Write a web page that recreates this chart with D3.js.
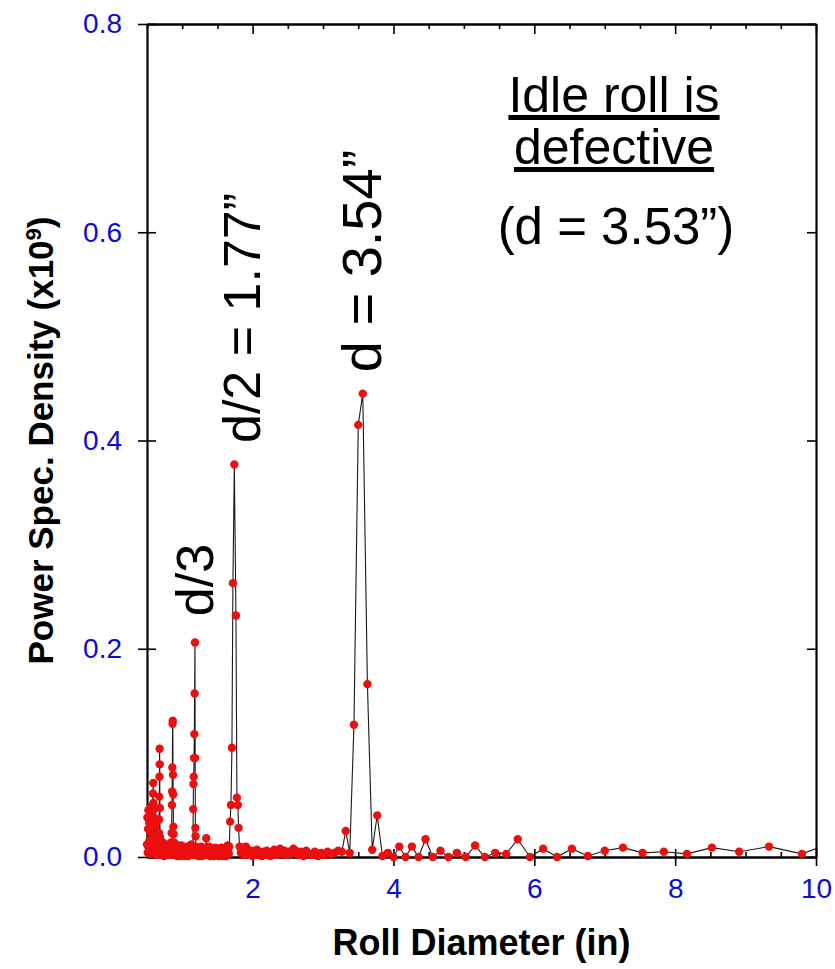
<!DOCTYPE html>
<html>
<head>
<meta charset="utf-8">
<script src="https://cdn.jsdelivr.net/npm/d3@7"></script>
<style>
  body { margin: 0; background: #fff; }
  svg { display: block; font-family: "Liberation Sans", Arial, sans-serif; }
</style>
</head>
<body>
<script>
// Données : diamètre du rouleau (in) et densité spectrale (x10^9)
// partie dense, de 0.5 à 1.85 in
const diameterDense = [
  0.500, 0.505, 0.510, 0.515, 0.520, 0.525, 0.530, 0.535, 0.540, 0.545,
  0.550, 0.555, 0.560, 0.565, 0.570, 0.575, 0.580, 0.585, 0.588, 0.591,
  0.595, 0.600, 0.605, 0.610, 0.615, 0.620, 0.625, 0.630, 0.635, 0.640,
  0.645, 0.650, 0.655, 0.660, 0.665,
  0.668, 0.671, 0.673, 0.675, 0.677, 0.679, 0.681, 0.683, 0.685, 0.688,
  0.692, 0.697, 0.702, 0.707, 0.712, 0.718, 0.724, 0.730, 0.736, 0.742,
  0.748, 0.754, 0.760, 0.766, 0.772, 0.778, 0.784, 0.790, 0.796, 0.802,
  0.808, 0.814, 0.820, 0.826, 0.832, 0.838, 0.844, 0.850, 0.854, 0.857,
  0.860, 0.863, 0.866, 0.869, 0.872, 0.875, 0.878, 0.882, 0.887,
  0.893, 0.899, 0.905, 0.911, 0.917, 0.923, 0.929, 0.935, 0.941, 0.947,
  0.953, 0.959, 0.965, 0.971, 0.977, 0.983, 0.989, 0.995, 1.001, 1.008,
  1.015, 1.022, 1.029, 1.036, 1.043, 1.050, 1.057, 1.064, 1.071, 1.078,
  1.085, 1.092, 1.099, 1.106, 1.113, 1.120, 1.127, 1.134, 1.141, 1.148,
  1.152, 1.156, 1.160, 1.164, 1.168, 1.172, 1.176, 1.181, 1.184, 1.187,
  1.190, 1.193, 1.197, 1.201,
  1.207, 1.214, 1.221, 1.228, 1.235, 1.242, 1.249, 1.256, 1.263, 1.270,
  1.278, 1.286, 1.294, 1.302, 1.310, 1.318, 1.326, 1.334, 1.342, 1.350,
  1.358, 1.366, 1.374, 1.382, 1.390, 1.398, 1.406, 1.414, 1.422, 1.430,
  1.438, 1.446, 1.454, 1.462, 1.470, 1.478, 1.486, 1.494, 1.502, 1.510,
  1.518, 1.526, 1.534, 1.542, 1.550, 1.558, 1.566, 1.574, 1.582, 1.590,
  1.598, 1.606, 1.614, 1.622, 1.630, 1.638, 1.646, 1.654, 1.661,
  1.668, 1.680, 1.692, 1.706, 1.720, 1.740, 1.763, 1.777, 1.790, 1.800,
  1.815, 1.832
];
const psdDense = [
  0.012, 0.038, 0.004, 0.027, 0.045, 0.008, 0.033, 0.016, 0.040, 0.003,
  0.024, 0.048, 0.011, 0.036, 0.005, 0.029, 0.044, 0.061, 0.071, 0.052,
  0.020, 0.038, 0.006, 0.031, 0.047, 0.014, 0.002, 0.026, 0.009, 0.018,
  0.004, 0.011, 0.002, 0.007, 0.003,
  0.010, 0.023, 0.036, 0.058, 0.077, 0.104, 0.089, 0.047, 0.019, 0.005,
  0.012, 0.003, 0.008, 0.002, 0.009, 0.004, 0.014, 0.003, 0.007, 0.001,
  0.011, 0.004, 0.006, 0.002, 0.008, 0.003, 0.012, 0.005, 0.002, 0.009,
  0.004, 0.007, 0.002, 0.010, 0.004, 0.006, 0.014, 0.023, 0.050, 0.063,
  0.086, 0.128, 0.131, 0.079, 0.060, 0.029, 0.022, 0.014, 0.005,
  0.010, 0.003, 0.007, 0.002, 0.012, 0.005, 0.001, 0.008, 0.003, 0.006,
  0.002, 0.009, 0.004, 0.001, 0.007, 0.003, 0.011, 0.004, 0.002, 0.008,
  0.003, 0.006, 0.001, 0.009, 0.004, 0.002, 0.007, 0.003, 0.010, 0.004,
  0.001, 0.006, 0.003, 0.008, 0.002, 0.005, 0.012, 0.004, 0.007, 0.002,
  0.010, 0.046, 0.070, 0.077, 0.095, 0.118, 0.157, 0.206, 0.095, 0.028,
  0.020, 0.010, 0.004, 0.008,
  0.008, 0.003, 0.006, 0.001, 0.009, 0.004, 0.002, 0.007, 0.003, 0.010,
  0.004, 0.001, 0.006, 0.003, 0.008, 0.002, 0.005, 0.009, 0.018, 0.006,
  0.002, 0.007, 0.003, 0.010, 0.004, 0.001, 0.006, 0.003, 0.008, 0.002,
  0.005, 0.001, 0.007, 0.003, 0.009, 0.004, 0.002, 0.006, 0.003, 0.008,
  0.001, 0.005, 0.002, 0.007, 0.003, 0.009, 0.004, 0.001, 0.006, 0.002,
  0.008, 0.003, 0.005, 0.001, 0.007, 0.003, 0.011, 0.004, 0.003,
  0.010, 0.034, 0.050, 0.105, 0.263, 0.377, 0.232, 0.057, 0.050, 0.028,
  0.010, 0.004
];
// partie espacée, de 1.85 à 10.3 in
const diameterSparse = [
  1.849, 1.867, 1.885, 1.903, 1.922, 1.941, 1.960, 1.980, 2.000, 2.021,
  2.042, 2.063, 2.085, 2.108, 2.130, 2.154, 2.178, 2.202, 2.227, 2.253,
  2.279, 2.306, 2.333, 2.361, 2.390, 2.420, 2.450, 2.481, 2.513, 2.545,
  2.579, 2.613, 2.649, 2.685, 2.722, 2.761, 2.800, 2.841, 2.882, 2.925,
  2.970, 3.015, 3.063, 3.111, 3.161, 3.213, 3.267, 3.322, 3.379, 3.439,
  3.500, 3.564, 3.630, 3.698, 3.769, 3.843, 3.920, 4.000, 4.083, 4.170,
  4.261, 4.356, 4.455, 4.558, 4.667, 4.780, 4.900, 5.026, 5.158, 5.297,
  5.444, 5.600, 5.765, 5.939, 6.125, 6.323, 6.533, 6.759, 7.000, 7.259,
  7.538, 7.840, 8.167, 8.522, 8.909, 9.333, 9.800, 10.316
];
const psdSparse = [
  0.003, 0.006, 0.002, 0.010, 0.004, 0.007, 0.002, 0.005, 0.001, 0.006,
  0.003, 0.007, 0.002, 0.004, 0.001, 0.005, 0.002, 0.006, 0.003, 0.001,
  0.004, 0.007, 0.002, 0.005, 0.008, 0.003, 0.006, 0.002, 0.005, 0.003,
  0.008, 0.006, 0.002, 0.005, 0.001, 0.006, 0.003, 0.002, 0.005, 0.001,
  0.004, 0.002, 0.005, 0.003, 0.004, 0.006, 0.005, 0.025, 0.004, 0.127,
  0.415, 0.445, 0.166, 0.007, 0.040, 0.001, 0.004, 0.000, 0.010, 0.000,
  0.010, 0.000, 0.017, 0.000, 0.006, 0.000, 0.004, 0.000, 0.011, 0.000,
  0.004, 0.003, 0.017, 0.000, 0.008, 0.000, 0.008, 0.001, 0.006, 0.009,
  0.004, 0.005, 0.003, 0.009, 0.005, 0.010, 0.003, 0.016
];
// Graduations
const xMajorTicks = [2, 4, 6, 8, 10];
const xMinorTicks = [0.5, 1, 1.5, 2.5, 3, 3.5, 4.5, 5, 5.5, 6.5, 7, 7.5, 8.5, 9, 9.5];
const yTicks = [0, 0.2, 0.4, 0.6, 0.8];

// Taille de la feuille
const WIDTH = 835;
const HEIGHT = 969;
const margin = { top: 24, right: 19, bottom: 112, left: 147 };
const innerW = WIDTH - margin.left - margin.right;
const innerH = HEIGHT - margin.top - margin.bottom;

const points = diameterDense.concat(diameterSparse).map((d, i) => ({
  x: d,
  y: psdDense.concat(psdSparse)[i]
}));

const svg = d3.select("body").append("svg")
  .attr("width", WIDTH)
  .attr("height", HEIGHT);

const g = svg.append("g")
  .attr("transform", `translate(${margin.left},${margin.top})`);

const x = d3.scaleLinear().domain([0.5, 10]).range([0, innerW]);
const y = d3.scaleLinear().domain([0, 0.8]).range([innerH, 0]);

// Axes
const AXIS_BLUE = "#0c0cd0";

// bas : graduations majeures qui traversent l'axe
const xAxis = g.append("g")
  .attr("transform", `translate(0,${innerH})`)
  .call(d3.axisBottom(x).tickValues(xMajorTicks).tickSize(9).tickSizeOuter(0).tickPadding(12));
xAxis.selectAll(".tick line").attr("y1", -8);
g.append("g")
  .attr("transform", `translate(0,${innerH})`)
  .call(d3.axisBottom(x).tickValues(xMinorTicks).tickSize(-5).tickSizeOuter(0).tickFormat(""));

// haut
g.append("g")
  .call(d3.axisTop(x).tickValues(xMajorTicks).tickSize(-10).tickSizeOuter(0).tickFormat(""));
g.append("g")
  .call(d3.axisTop(x).tickValues(xMinorTicks).tickSize(-5).tickSizeOuter(0).tickFormat(""));

// gauche
const yAxis = g.append("g")
  .call(d3.axisLeft(y).tickValues(yTicks).tickSize(9).tickSizeOuter(0).tickPadding(16)
    .tickFormat(d3.format(".1f")));
yAxis.selectAll(".tick line").attr("x1", 9);

// droite
g.append("g")
  .attr("transform", `translate(${innerW},0)`)
  .call(d3.axisRight(y).tickValues(yTicks).tickSize(-9).tickSizeOuter(0).tickFormat(""));

g.selectAll(".domain").attr("stroke", "#000").attr("stroke-width", 2.2);
g.selectAll(".tick line").attr("stroke", "#000").attr("stroke-width", 1.6);
g.selectAll(".tick text")
  .attr("fill", AXIS_BLUE)
  .style("font-size", "28px")
  .style("font-family", "'Liberation Sans', Arial, sans-serif");

// Découpage à droite (le dernier point dépasse 10)
svg.append("clipPath").attr("id", "plotClip")
  .append("rect")
  .attr("x", -10).attr("y", -10)
  .attr("width", innerW + 10).attr("height", innerH + 20);

const plot = g.append("g").attr("clip-path", "url(#plotClip)");

// Ligne
plot.append("path")
  .datum(points)
  .attr("fill", "none")
  .attr("stroke", "#1a1a1a")
  .attr("stroke-width", 1.1)
  .attr("d", d3.line().x((d) => x(d.x)).y((d) => y(d.y)));

// Points
plot.selectAll("circle")
  .data(points)
  .enter()
  .append("circle")
  .attr("cx", (d) => x(d.x))
  .attr("cy", (d) => y(d.y))
  .attr("r", 4.2)
  .attr("fill", "#ec0f0f");

// Titres des axes
svg.append("text")
  .attr("x", margin.left + innerW / 2)
  .attr("y", 955)
  .attr("text-anchor", "middle")
  .style("font-size", "36px")
  .style("font-weight", "bold")
  .text("Roll Diameter (in)");

const yTitle = svg.append("text")
  .attr("transform", `translate(53,${margin.top + innerH / 2}) rotate(-90)`)
  .attr("text-anchor", "middle")
  .style("font-size", "35px")
  .style("font-weight", "bold");
yTitle.append("tspan").text("Power Spec. Density (x10");
yTitle.append("tspan").attr("baseline-shift", "super").style("font-size", "22px").text("9");
yTitle.append("tspan").text(")");

// Annotations
const annot = svg.append("g").style("font-size", "50px").attr("fill", "#000");
annot.append("text").attr("x", 614).attr("y", 112).attr("text-anchor", "middle")
  .style("text-decoration", "underline").text("Idle roll is");
annot.append("text").attr("x", 614).attr("y", 164).attr("text-anchor", "middle")
  .style("text-decoration", "underline").text("defective");
annot.append("text").attr("x", 616).attr("y", 244).attr("text-anchor", "middle")
  .style("font-size", "51px")
  .text("(d = 3.53\u201d)");

annot.append("text")
  .attr("transform", "translate(381,261) rotate(-90)")
  .attr("text-anchor", "middle")
  .style("font-size", "56px")
  .text("d = 3.54\u201d");
annot.append("text")
  .attr("transform", "translate(260,318) rotate(-90)")
  .attr("text-anchor", "middle")
  .style("font-size", "52px")
  .text("d/2 = 1.77\u201d");
annot.append("text")
  .attr("transform", "translate(213,580) rotate(-90)")
  .attr("text-anchor", "middle")
  .style("font-size", "52px")
  .text("d/3");
</script>
</body>
</html>
